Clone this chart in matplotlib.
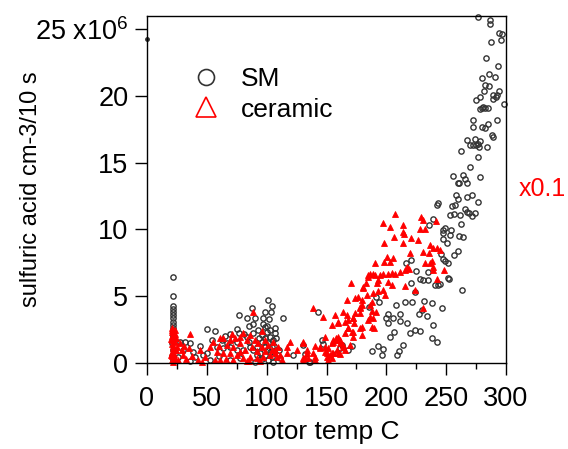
import matplotlib
matplotlib.use("Agg")
import matplotlib.pyplot as plt
from matplotlib.lines import Line2D

plt.rcParams['font.family'] = ['Liberation Sans', 'DejaVu Sans']
plt.rcParams['mathtext.fontset'] = 'custom'
plt.rcParams['mathtext.rm'] = 'Liberation Sans'
plt.rcParams['mathtext.it'] = 'Liberation Sans'

# ---------------- data (x: rotor temp C, y: sulfuric acid, units of 1e6) -------------
sm_x = [276.9, 286.9, 286.9, 294.4, 296.9, 296.1, 287.5, 298.4, 283.6, 293.6, 286, 290.8, 280.2, 282.7,
        285.6, 281.6, 294.2, 289.4, 292.2, 288.9, 291.4, 275, 278.3, 279.7, 281, 282.5, 285.2, 278.3,
        272.7, 272.2, 280.2, 282.5, 285.2, 292.5, 288.3, 289.4, 267.2, 269.9, 272.7, 274.7, 276.9, 278.3,
        274.1, 277.7, 283.9, 262.4, 276.9, 269.9, 255.5, 261, 264.4, 265.8, 267.2, 278.3,
        260.2, 258, 259.6, 267.2, 271.4, 276.4, 242.1, 243, 254.6, 257.4, 253.2, 256.6, 261.6, 265.8,
        267.2, 269.4, 271.4, 274.1, 262.4, 238.8, 247.7, 249.1, 253.8, 247, 247.7, 250.5, 261, 264.4,
        256.8, 259.6, 245.7, 247.7, 249.1, 251.8, 251.3, 252.4, 240.7, 243.5, 244.9, 263, 237.9, 246.3,
        238.8, 237.9, 242.1,
        236, 253.2, 216.4, 220.4, 224.6, 235.1, 228.1, 230.9, 235.1, 220.4, 224, 191.4, 194.1, 208.1,
        215.6, 221.2, 231.7, 185.8, 201.7, 211.4, 227.5, 229.6, 199.7, 205.3, 211.4, 217, 223.9, 233.7,
        201.1, 206.7, 203.1, 219.8, 228.1, 187.8, 193.3, 197.5, 196.1, 208.7, 210.9, 214.2,
        143.2, 113.9, 146, 162.7, 168.3, 161.3, 158.5, 130.6, 122.3, 136.2, 101.4, 104.2, 98.6, 103.6,
        97.2, 102.2, 107, 171.1, 135.6, 132, 147.3,
        27.6, 31.8, 35.9, 30.4, 26.2, 38.7, 35.9, 50.4, 57.1, 54.1, 69.4, 75.5, 76.9, 83.3, 85.5, 88.8,
        77.2, 88, 90.2, 100,
        62.4, 66.6, 75, 83.3, 88.8, 93, 95.9, 98.6, 100, 102.8, 105.6, 107, 104.2, 100, 94.4, 88.8, 80.5,
        75, 69.4, 63.8, 58.2, 49.9, 47.1, 40.1, 52.6, 77.7, 91.7, 101.4, 105.6, 90.3, 98.6, 104.2, 69.4,
        86.1,
        96, 99, 101, 103, 97, 94, 106, 108, 92, 96, 99, 103, 85, 81, 72, 65, 60, 44, 110, 111,
        21.5, 21.5, 21.5, 21.5, 21.5, 21.5, 21.5, 21.5, 21.5, 21.5, 21.5, 21.5, 21.5, 21.2, 21.8, 21.0, 22]
sm_y = [25.9, 25.7, 25.4, 24.7, 24.6, 24.2, 24.0, 19.4, 22.8, 22.2, 21.6, 21.4, 21.3, 20.8,
        20.7, 20.4, 20.4, 20.06, 20.06, 19.8, 19.9, 19.7, 19.9, 19.1, 19.2, 19.06, 19.1, 19.0,
        18.2, 17.7, 17.7, 17.6, 17.9, 18.2, 17.1, 16.9, 16.7, 16.3, 16.3, 16.3, 16.4, 16.6,
        16.8, 16.2, 16.2, 15.9, 15.4, 14.7, 14.0, 13.5, 14.1, 13.8, 13.5, 13.9,
        13.5, 12.6, 12.3, 12.4, 12.6, 12.05, 11.8, 12.0, 11.75, 11.8, 11.1, 11.15, 11.1, 11.5,
        11.3, 11.2, 11.0, 11.2, 10.4, 10.8, 9.95, 10.1, 9.95, 9.75, 9.3, 9.0, 9.5, 9.4,
        8.1, 8.4, 8.15, 7.8, 7.65, 7.5, 6.4, 6.3, 5.85, 5.85, 5.9, 5.5, 4.5, 4.1,
        2.85, 1.9, 1.6,
        10.3, 9.6, 7.5, 7.7, 6.9, 6.8, 6.3, 6.2, 6.2, 6.0, 5.3, 4.96, 4.6, 4.34,
        4.6, 4.6, 4.66, 4.16, 3.7, 3.67, 3.7, 4.0, 3.34, 3.34, 3.17, 3.0, 2.5, 3.54,
        2.97, 2.34, 1.97, 2.27, 2.42, 0.92, 1.27, 1.05, 0.6, 0.6, 0.92, 1.35,
        3.84, 3.34, 1.72, 1.35, 0.97, 1.1, 0.72, 1.35, 0.6, 0.1, 4.7, 4.27, 3.84, 3.84,
        3.34, 3.27, 2.6, 1.27, 0.05, 0.67, 1.42,
        1.6, 1.6, 1.52, 0.97, 0.47, 0.85, 0.17, 2.52, 2.4, 1.72, 2.17, 2.52, 2.27, 3.34, 2.8, 2.9,
        3.59, 4.09, 3.34, 2.77,
        1.72, 1.47, 1.6, 1.97, 2.22, 2.47, 2.1, 2.67, 2.34, 1.97, 1.72, 2.22, 1.22, 0.97, 0.72, 0.97, 0.97,
        0.97, 1.22, 1.1, 1.22, 0.72, 0.6, 0.47, 0.22, 0.35, 0.6, 0.22, 0.1, 0.1, 0.6, 0.47, 0.22,
        1.22,
        1.6, 1.9, 1.5, 2.5, 2.9, 1.9, 1.3, 1.9, 1.2, 0.3, 1.2, 0.8, 1.6, 2.2, 1.8, 2.0, 0.5, 1.3, 1.0, 0.4,
        6.41, 5.01, 4.29, 4.01, 3.79, 3.59, 3.34, 3.09, 2.84, 2.6, 2.4, 2.2, 2.0, 1.5, 1.0, 0.5, 0.2]

stray_x = [0]
stray_y = [24.25]

cer_x = [241.5, 236.5, 239.3, 242.1, 244.9, 237.9, 238.8, 239.3, 248.2, 242.1,
         207.3, 197, 203.1, 214.2, 229, 230.4, 228.1, 232.3, 213.7, 215, 206.4, 214.2, 220.4, 226.7,
         198.3, 230.9, 219.8, 235.8, 200.3, 205.3, 198.3, 203.1, 190.5, 232.3, 236.5, 217, 219.1,
         215.6, 211.4, 207.3, 204.5, 201.7, 197.5, 194.7, 189.1, 185, 193.3, 201.7, 204.5, 215.6, 224,
         180.8, 183.6, 189.1, 193.3, 197.5, 198.9, 179.4, 187.8, 186.4, 178, 230.9, 187.8, 189.1, 178,
         179.4,
         138.5, 147.3, 154.3, 157.1, 159.9, 164.1, 167.4, 168.3, 171.9, 173, 165.5, 170.2, 167.4, 173.9,
         176.7, 180.8, 183.1, 185, 186.4, 190.5, 192, 179.5, 178, 191.4, 185, 187.8, 189.7, 168.3, 172.5,
         158, 159, 161.3, 163.6, 154.3, 151.5, 153, 150.2, 154.3, 159.9, 165.5, 169.7, 130.6, 133.4,
         140.4, 144.6, 148.8, 140.4, 130.6, 119.5, 116.7, 111.1, 107, 102.8,
         130.6, 134.8, 140.4, 150.2, 151.5, 155.7, 158.5, 161.3, 164.1, 155.7, 159.9, 148.8, 144.6,
         133.5, 130.6, 148.8, 161.3, 171.1, 172.5, 165.5, 168.3, 159.9, 172.5, 173.8, 178, 179.4, 186.4,
         35.9, 88.3, 80.4,
         61.0, 63.8, 69.4, 73.5, 77.7, 55.4, 52.6, 66.6, 72.1, 77.7, 83.3, 86.1, 90.3, 93.0, 95.9, 98.6,
         101.4, 104.2, 107, 109.7, 44.3, 42.9, 48.5, 58.2, 63.8, 69.4, 75, 80.5, 86.1, 91.7, 97.2, 108.4,
         27.6, 29, 30.4, 24.8, 45.7, 61, 72.1, 83.3, 94.4, 112.6, 116.7, 125.1, 132, 139, 155.7, 154.3,
         96, 92, 88, 82, 66, 57, 99, 85, 105, 78, 60, 71,
         26, 33, 38, 31, 35,
         20.5, 22, 21, 23, 20.5, 22.5, 21, 23.5, 20.5, 22, 21.5, 23, 20.5, 22.5, 21, 23.5, 20.5, 22,
         24, 24, 20, 20, 21, 23]
cer_y = [10.65, 8.8, 8.6, 8.6, 8.45, 7.6, 7.2, 6.96, 6.96, 6.26,
         11.15, 10.5, 10.2, 10.3, 10.9, 10.7, 10.0, 10.0, 9.83, 9.66, 9.45, 9.0, 9.38, 9.2,
         9.0, 8.33, 8.2, 8.2, 7.95, 7.84, 7.58, 7.58, 7.46, 7.46, 7.46, 7.2, 7.0,
         6.96, 6.83, 6.7, 6.76, 6.66, 6.7, 6.6, 6.66, 6.6, 6.2, 6.08, 5.84, 5.76, 5.46,
         5.66, 5.09, 5.22, 5.41, 5.46, 5.09, 4.7, 4.6, 4.34, 4.2, 4.1, 3.9, 3.34, 2.6,
         2.1,
         4.1, 3.47, 2.84, 3.59, 2.97, 3.84, 3.59, 3.22, 3.34, 2.97, 3.09, 6.0, 4.7, 4.83,
         4.96, 5.59, 5.96, 6.46, 6.7, 6.59, 6.0, 4.34, 3.77, 3.84, 3.22, 2.72, 2.6, 2.6, 2.35,
         1.85, 1.72, 1.47, 1.35, 1.52, 1.1, 0.6, 0.72, 0.35, 0.72, 0.97, 1.35, 1.6, 0.97,
         1.27, 1.1, 0.85, 0.47, 0.35, 1.6, 1.22, 0.6, 0.97, 0.6,
         0.22, 0.35, 0.22, 0.47, 0.22, 0.72, 0.97, 0.67, 1.22, 1.6, 1.97, 1.22, 1.22,
         0.72, 1.47, 1.97, 1.72, 2.34, 1.97, 2.22, 2.6, 3.09, 3.34, 3.72, 4.09, 2.72, 3.47,
         2.17, 3.84, 2.27,
         1.85, 1.85, 1.72, 1.85, 1.97, 1.6, 1.22, 1.35, 1.22, 1.47, 1.72, 2.1, 1.72, 1.47, 1.22, 1.72,
         1.35, 0.97, 0.72, 1.22, 0.97, 0.22, 0.47, 0.85, 0.72, 0.72, 0.6, 0.35, 0.47, 0.35, 0.47, 0.47,
         1.47, 0.97, 0.6, 1.22, 0.1, 0.22, 0.22, 0.17, 0.17, 0.22, 0.72, 0.97, 0.35, 0.72, 1.72, 0.72,
         2.4, 0.9, 1.2, 1.0, 0.3, 0.2, 0.9, 0.15, 1.6, 0.8, 1.3, 2.2,
         0.2, 0.3, 0.5, 1.3, 1.1,
         2.6, 2.45, 2.3, 2.15, 2.0, 1.85, 1.7, 1.55, 1.4, 1.25, 1.1, 0.95, 0.8, 0.65, 0.5, 0.35, 0.2, 0.05,
         1.9, 1.0, 0.6, 1.8, 2.5, 2.5]

x_ticks = [0, 50, 100, 150, 200, 250, 300]
y_ticks = [0, 5, 10, 15, 20, 25]
y_tick_labels = ['0', '5', '10', '15', '20', '25 x10$^{6}$']
series_labels = ['SM', 'ceramic']
x_label = 'rotor temp C'
y_label = 'sulfuric acid cm-3/10 s'
scale_note = 'x0.1'

# ---------------- figure ----------------
W, H = 568, 449
fig = plt.figure(figsize=(W / 100, H / 100), dpi=100)
ax = fig.add_axes([147 / W, 1 - 363 / H, 359 / W, (363 - 15.7) / H])

sm_col = '#333333'
red = '#ff0000'

ax.plot(sm_x, sm_y, linestyle='none', marker='o', markersize=3.8, markerfacecolor='none',
        markeredgecolor=sm_col, markeredgewidth=1.0, clip_on=False)
ax.plot(stray_x, stray_y, linestyle='none', marker='o', markersize=2.5, markerfacecolor=sm_col,
        markeredgecolor=sm_col, clip_on=False)
ax.plot(cer_x, cer_y, linestyle='none', marker='^', markersize=4.8, markerfacecolor=red,
        markeredgecolor=red, markeredgewidth=0.6, clip_on=False)

ax.set_xlim(0, 300)
ax.set_ylim(0, 26.0)
ax.set_xticks(x_ticks)
ax.set_xticks([25, 75, 125, 175, 225, 275], minor=True)
ax.set_yticks(y_ticks)
ax.set_yticklabels(y_tick_labels)
ax.tick_params(axis='both', which='major', direction='out', length=8.5, width=1.0,
               labelsize=19.5, colors='black')
ax.tick_params(axis='x', which='major', pad=8)
ax.tick_params(axis='y', which='major', pad=5)
ax.tick_params(axis='x', which='minor', direction='out', length=4.5, width=1.0)
for s in ax.spines.values():
    s.set_linewidth(1.0)
    s.set_color('black')

ax.set_xlabel(x_label, fontsize=19)
ax.xaxis.set_label_coords(0.5, -0.165)
ax.set_ylabel(y_label, fontsize=17)
ax.yaxis.set_label_coords(-0.292, 0.5)

handles = [Line2D([], [], linestyle='none', marker='o', markersize=11.5, markerfacecolor='none',
                  markeredgecolor=sm_col, markeredgewidth=1.2),
           Line2D([], [], linestyle='none', marker='^', markersize=14, markerfacecolor='none',
                  markeredgecolor=red, markeredgewidth=1.2)]
ax.legend(handles, series_labels, loc='upper left', bbox_to_anchor=(192.5 / W, 1 - 67 / H),
          bbox_transform=fig.transFigure, frameon=False, fontsize=19, borderpad=0,
          borderaxespad=0, handlelength=1.0, handletextpad=0.85, labelspacing=0.25)

fig.text(519 / W, 1 - 196 / H, scale_note, color=red, fontsize=18, ha='left', va='baseline')

fig.savefig('out.png', dpi=100)
